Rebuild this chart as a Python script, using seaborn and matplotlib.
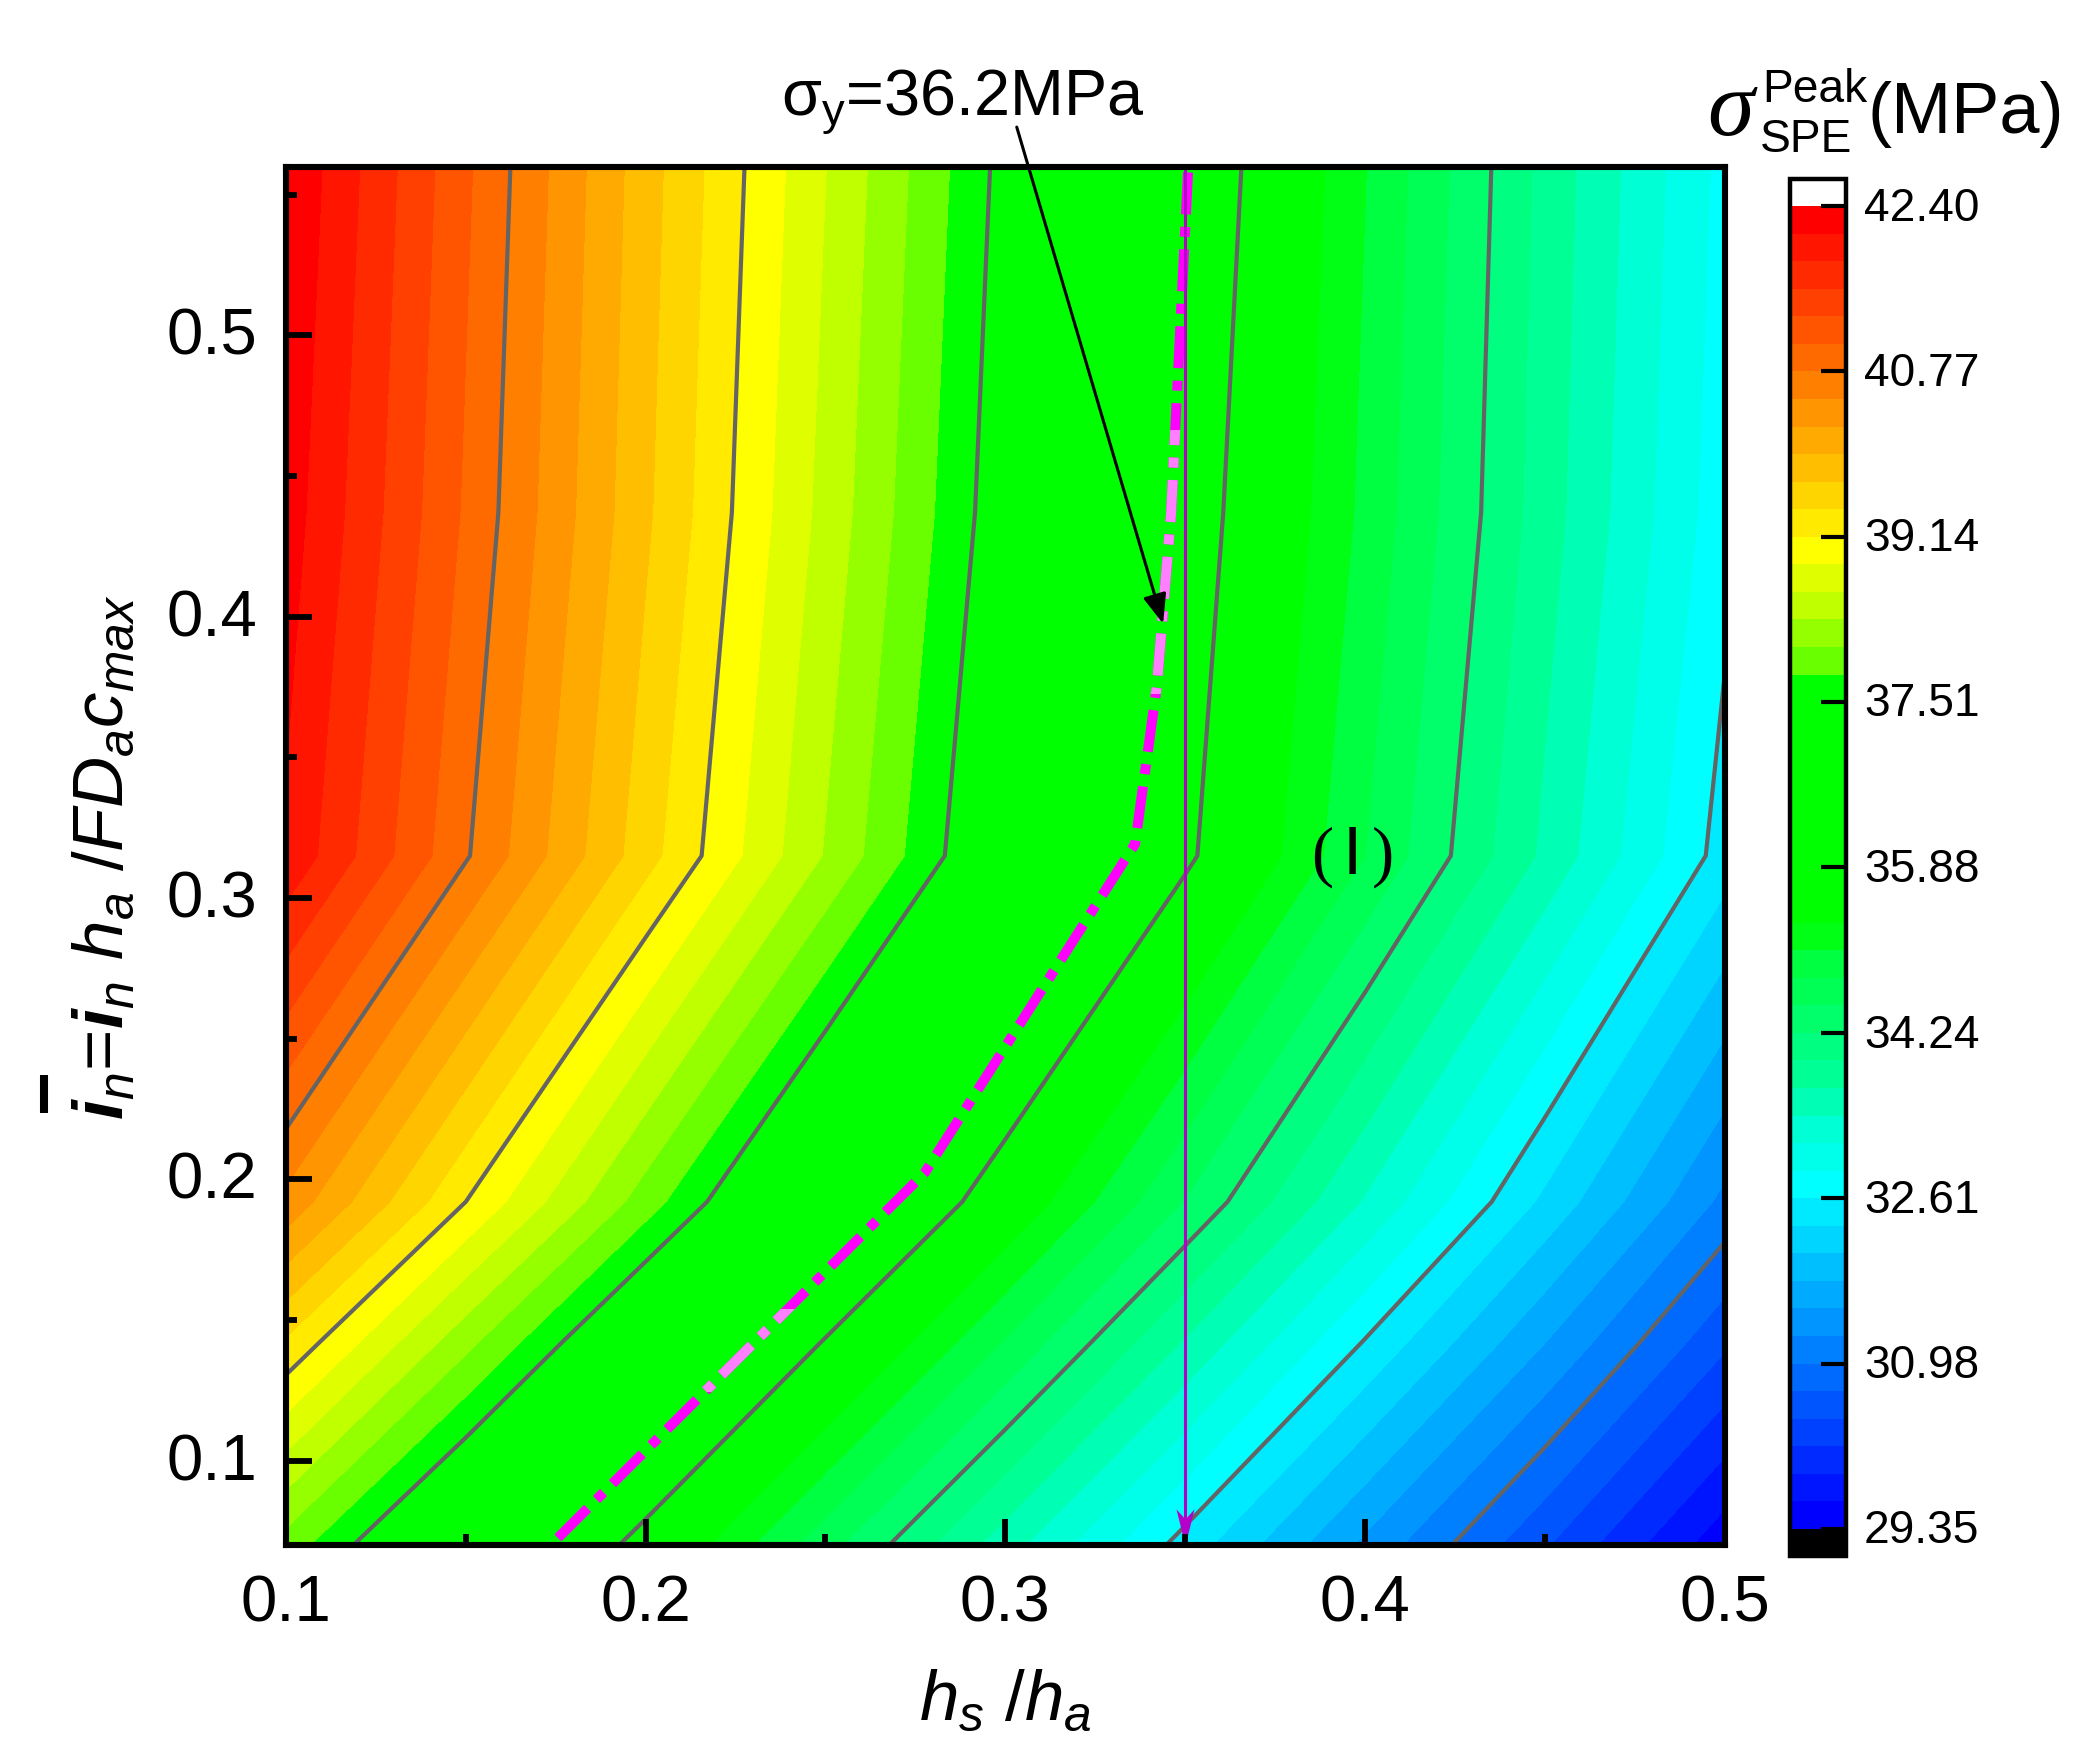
import numpy as np
import matplotlib
matplotlib.use('Agg')
import matplotlib.pyplot as plt
import seaborn as sns
from matplotlib.colors import ListedColormap, BoundaryNorm
from matplotlib.lines import Line2D
from matplotlib.patches import Rectangle
from matplotlib.transforms import ScaledTranslation

hs_ha = [0.10, 0.15, 0.20, 0.25, 0.30, 0.35, 0.40, 0.45, 0.50]
in_bar = [0.07, 0.142, 0.192, 0.315, 0.437, 0.56]
row_007 = [37.93, 36.81, 35.72, 34.62, 33.55, 32.50, 31.46, 30.47, 29.44]
row_014 = [39.37, 38.13, 36.97, 35.85, 34.76, 33.67, 32.59, 31.53, 30.49]
row_019 = [40.42, 39.14, 37.91, 36.74, 35.61, 34.50, 33.40, 32.28, 31.18]
row_031 = [42.08, 40.80, 39.52, 38.30, 37.11, 35.96, 34.79, 33.64, 32.49]
row_044 = [42.27, 41.00, 39.73, 38.50, 37.31, 36.12, 34.99, 33.83, 32.72]
row_056 = [42.39, 41.09, 39.80, 38.60, 37.41, 36.25, 35.07, 33.89, 32.80]

cbar_ticks = [29.35, 30.98, 32.61, 34.24, 35.88, 37.51, 39.14, 40.77, 42.40]
line_levels = [30.98, 32.61, 34.24, 35.88, 37.51, 39.14, 40.77]

# sigma_y = 36.2 MPa curve
yield_x = [0.1756, 0.2776, 0.3361, 0.3421, 0.3461, 0.3509]
yield_y = [0.0725, 0.2023, 0.3192, 0.3747, 0.4364, 0.5600]

# colorbar bands, top to bottom
band_colors = ['#FF0000', '#FF1500', '#FF2A00', '#FF4000', '#FF5500', '#FF6A00',
               '#FF8000', '#FF9500', '#FFAA00', '#FFBF00', '#FFD500', '#FFEA00',
               '#FFFF00', '#DFFF00', '#BFFF00', '#95FF00', '#6AFF00', '#00FF00',
               '#00FF00', '#00FF00', '#00FF00', '#00FF00', '#00FF00', '#00FF00',
               '#00FF00', '#00FF00', '#00FF15', '#00FF40', '#00FF55', '#00FF6A',
               '#00FF80', '#00FF95', '#00FFB5', '#00FFD5', '#00FFEA', '#00FFFF',
               '#00EAFF', '#00D5FF', '#00BFFF', '#00AAFF', '#0095FF', '#0080FF',
               '#006AFF', '#0055FF', '#0040FF', '#002AFF', '#0015FF', '#0000FF']

W, H = 2092, 1764
sns.set_theme(style='ticks', rc={'text.color': 'black', 'axes.edgecolor': 'black', 'axes.labelcolor': 'black',
                                 'xtick.color': 'black', 'ytick.color': 'black', 'axes.axisbelow': False})
plt.rcParams['font.family'] = ['Liberation Sans', 'DejaVu Sans']
plt.rcParams['mathtext.fontset'] = 'custom'
plt.rcParams['mathtext.rm'] = 'Liberation Sans'
plt.rcParams['mathtext.it'] = 'Liberation Sans:italic'
plt.rcParams['mathtext.bf'] = 'Liberation Sans:bold'
plt.rcParams['mathtext.bfit'] = 'Liberation Sans:italic:bold'

def px_rect(left, top, right, bottom):
    return [left / W, 1 - bottom / H, (right - left) / W, (bottom - top) / H]

def put(x, y, s, **kw):
    return fig.text(x / W, 1 - y / H, s, **kw)

fig = plt.figure(figsize=(W / 200, H / 200), dpi=200)
ax = fig.add_axes(px_rect(286, 166.5, 1724.5, 1545))

Z = np.array([row_007, row_014, row_019, row_031, row_044, row_056])
levels = np.linspace(cbar_ticks[0], cbar_ticks[-1], 49)
cmap = ListedColormap(sns.color_palette(band_colors[::-1]))
cmap.set_under('black')
cmap.set_over('white')
norm = BoundaryNorm(levels, cmap.N)

cf = ax.contourf(hs_ha, in_bar, Z, levels=levels, cmap=cmap, norm=norm, extend='both', antialiased=False)
ax.contour(hs_ha, in_bar, Z, levels=line_levels, colors='#646464', linewidths=1.5)

# dash-dot curve, two stretches of it are lighter
lw_yield = 3.6
dash = (4.2, 1.25, 1.0, 1.25)
for col, box in [('#FF00FF', None), ('#FF80FF', (0.3724, 0.0939)), ('#FF80FF', (0.1245, 0.0295))]:
    sns.lineplot(x=yield_x, y=yield_y, sort=False, estimator=None, color=col, linewidth=lw_yield, ax=ax, legend=False)
    ln = ax.lines[-1]
    ln.set_dashes(dash)
    ln.set_dash_capstyle('butt')
    if box is None:
        ln.set_clip_on(False)
    else:
        ln.set_clip_path(Rectangle((0.1, box[0]), 0.4, box[1], transform=ax.transData))

# thin vertical line with barbed head
ax.plot([0.35, 0.35], [0.56, 0.075], color='#B400C8', lw=1.1)
ax.plot([0.35], [0.07], marker=[(0, 0), (-9, 36), (0, 26), (9, 36)], ms=26, color='#B400C8', mew=0, clip_on=False)

ax.set_xlim(0.1, 0.5)
ax.set_ylim(0.07, 0.56)
ax.set_xticks([0.1, 0.2, 0.3, 0.4, 0.5])
ax.set_xticks([0.15, 0.25, 0.35, 0.45], minor=True)
ax.set_yticks([0.1, 0.2, 0.3, 0.4, 0.5])
ax.set_yticks([0.15, 0.25, 0.35, 0.45, 0.55], minor=True)
ax.tick_params(which='major', direction='in', length=9.3, width=2.1, labelsize=23.5, pad=10.5)
ax.tick_params(which='minor', direction='in', length=4, width=2.1)
nudge = ScaledTranslation(0, -2.6 / 200, fig.dpi_scale_trans)
for lab in ax.get_yticklabels():
    lab.set_va('center')
    lab.set_transform(lab.get_transform() + nudge)
for s in ax.spines.values():
    s.set_linewidth(2.2)

# arrow from the label
ax.annotate('', xy=(0.3439, 0.3975), xytext=(0.3032, 0.574), annotation_clip=False,
            arrowprops=dict(arrowstyle='-|>,head_length=0.75,head_width=0.3', color='black', lw=1.1,
                            shrinkA=0, shrinkB=0))

cax = fig.add_axes(px_rect(1790, 179, 1846, 1556))
cbar = fig.colorbar(cf, cax=cax, extend='both', extendrect=True, extendfrac=0.0205, ticks=cbar_ticks,
                    spacing='proportional', drawedges=False)
cbar.ax.minorticks_off()
cbar.ax.set_yticklabels(['%.2f' % t for t in cbar_ticks])
cbar.ax.tick_params(direction='in', length=9, width=1.5, labelsize=16.6, pad=6.5, color='black')
for lab in cbar.ax.get_yticklabels():
    lab.set_va('center')
    lab.set_transform(lab.get_transform() + nudge)
cbar.outline.set_linewidth(1.6)
cbar.outline.set_edgecolor('black')

put(1005, 1702, r'$h_{s}$ /$h_{a}$', fontsize=25.5, ha='center', va='center')
put(105, 857, r'$\mathbfit{i}_{n}$=$\mathbfit{i}_{n}$ $h_{a}$ /$FD_{a}c_{max}$', fontsize=25.5, rotation=90, ha='center', va='center')
fig.add_artist(Line2D([44 / W, 44 / W], [1 - 1113 / H, 1 - 1075 / H], color='black', lw=2.9, solid_capstyle='butt'))

put(963, 102, r'$\mathrm{\sigma_{y}}$=36.2MPa', fontsize=23.3, ha='center', va='center')
put(1322, 857, '(', fontsize=24, ha='center', va='center', family='Liberation Serif')
put(1352, 856, 'I', fontsize=25, ha='center', va='center')
put(1383, 857, ')', fontsize=24, ha='center', va='center', family='Liberation Serif')

put(1731, 113, 'σ', fontsize=34, ha='center', va='center', family='Liberation Serif', style='italic')
put(1762, 102, 'Peak', fontsize=16.6, ha='left', va='baseline')
put(1760, 152, 'SPE', fontsize=16.6, ha='left', va='baseline')
put(1867, 133, '(MPa)', fontsize=26, ha='left', va='baseline')

fig.savefig('out.png', dpi=200)
